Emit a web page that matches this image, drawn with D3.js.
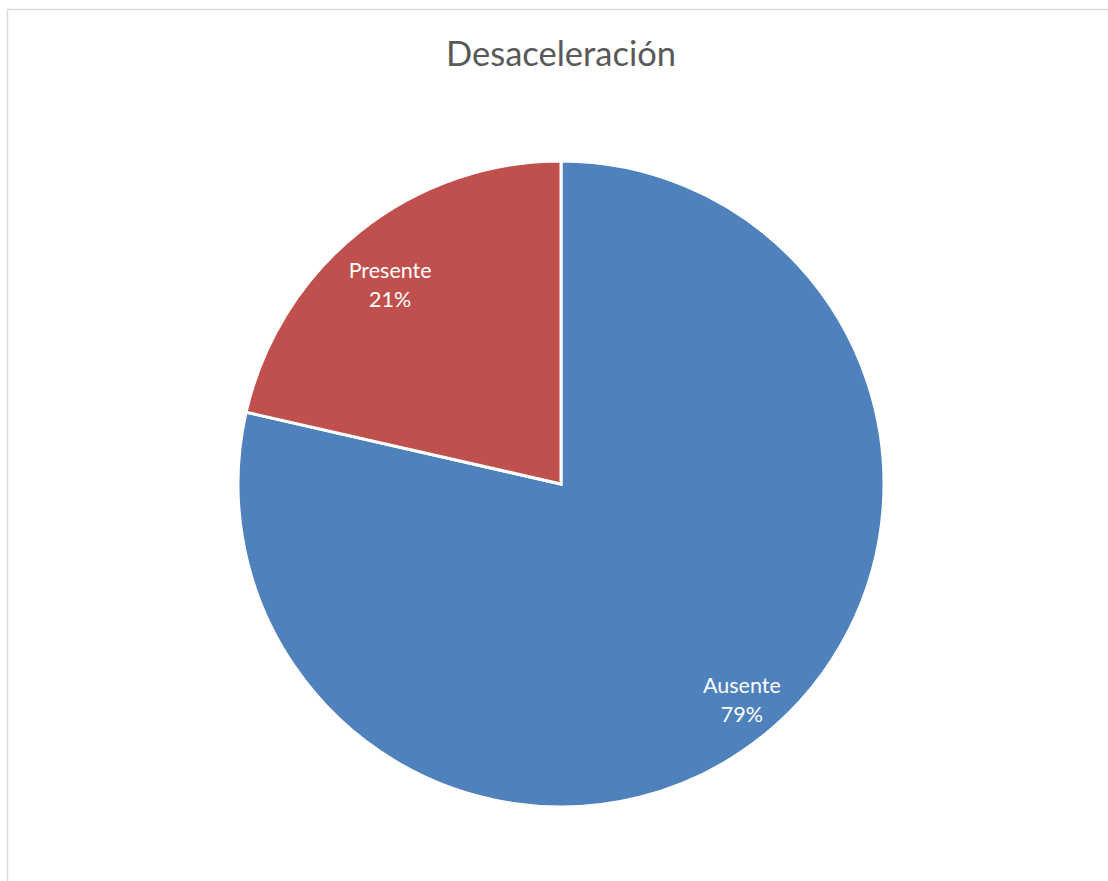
<!DOCTYPE html>
<html>
<head>
<meta charset="utf-8">
<script src="https://cdn.jsdelivr.net/npm/d3@7"></script>
<style>
  html, body { margin: 0; padding: 0; background: #fff; }
  svg { display: block; }
</style>
</head>
<body>
<svg id="chart" width="1108" height="881"></svg>
<script>
// Deceleration presence: patient counts per category
const categories = ["Ausente", "Presente"];
const counts = [11, 3];
const colors = ["#4F81BD", "#C0504D"];
const title = "Desaceleración";

const width = 1108, height = 881;
const svg = d3.select("#chart");

// Chart area frame
svg.append("rect")
  .attr("x", 7.5).attr("y", 9.5)
  .attr("width", width + 20).attr("height", height + 20)
  .attr("fill", "#fff")
  .attr("stroke", "#d9d9d9")
  .attr("stroke-width", 1.5);

svg.append("text")
  .attr("x", 561).attr("y", 66)
  .attr("text-anchor", "middle")
  .attr("font-family", "Lato, 'Open Sans', sans-serif")
  .attr("font-size", 34.5)
  .attr("fill", "#595959")
  .text(title);

const cx = 561, cy = 484, R = 323;
const total = d3.sum(counts);
const data = categories.map((c, i) => ({ name: c, value: counts[i], color: colors[i] }));

const pie = d3.pie().value(d => d.value).sort(null);
const arc = d3.arc().innerRadius(0).outerRadius(R);

// Label anchor: slightly before the slice midpoint, larger slice placed further out
function labelPos(d) {
  const a = (d.startAngle + d.endAngle) / 2 - 0.03;
  const r = (d.endAngle - d.startAngle > Math.PI ? 0.866 : 0.818) * R;
  return [r * Math.sin(a), -r * Math.cos(a)];
}

const g = svg.append("g").attr("transform", `translate(${cx},${cy})`);
const arcs = pie(data);

g.selectAll("path.slice")
  .data(arcs)
  .join("path")
  .attr("class", "slice")
  .attr("d", arc)
  .attr("fill", d => d.data.color)
  .attr("stroke", "#fff")
  .attr("stroke-width", 3)
  .attr("stroke-linejoin", "miter");

const labels = g.selectAll("text.lbl")
  .data(arcs)
  .join("text")
  .attr("class", "lbl")
  .attr("transform", d => `translate(${labelPos(d)})`)
  .attr("text-anchor", "middle")
  .attr("font-family", "Lato, 'Open Sans', sans-serif")
  .attr("font-size", 21.5)
  .attr("fill", "#fff");

labels.append("tspan")
  .attr("x", 0).attr("dy", "-0.2em")
  .text(d => d.data.name);
labels.append("tspan")
  .attr("x", 0).attr("dy", "1.35em")
  .text(d => Math.round(d.data.value / total * 100) + "%");
</script>
</body>
</html>
